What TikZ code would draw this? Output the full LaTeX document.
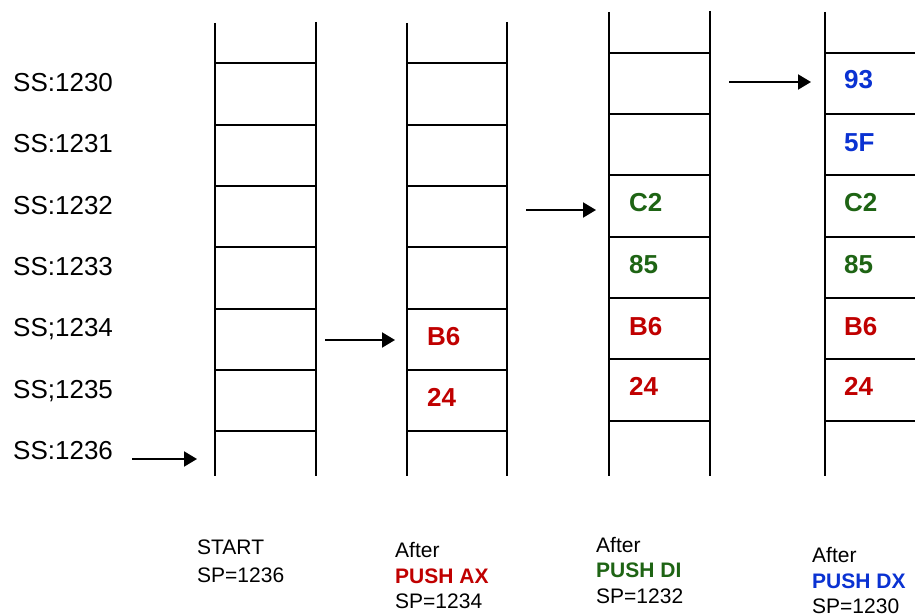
\documentclass[tikz,border=0pt]{standalone}
\usepackage{fontspec}
\setmainfont{Liberation Sans}
\usetikzlibrary{arrows.meta}
\definecolor{pred}{RGB}{192,0,0}
\definecolor{pgreen}{RGB}{30,100,20}
\definecolor{pblue}{RGB}{10,50,210}
\tikzset{
  ladder/.style={line width=2pt, black},
  ptr/.style={line width=2pt, -{Triangle[length=13pt,width=15pt]}},
  addr/.style={anchor=base west, inner sep=0pt, font=\fontsize{26}{26}\selectfont},
  val/.style={anchor=base west, inner sep=0pt, font=\fontsize{26}{26}\selectfont\bfseries},
  captxt/.style={anchor=base west, inner sep=0pt, font=\fontsize{21}{21}\selectfont},
  captxtb/.style={anchor=base west, inner sep=0pt, font=\fontsize{21}{21}\selectfont\bfseries},
}
\begin{document}
\begin{tikzpicture}[x=1pt,y=-1pt]
\clip (0,0) rectangle (915,615);
\fill[white] (0,0) rectangle (915,615);
% stack 1 and 2
\foreach \l/\r in {215/316, 407/507}{
  \draw[ladder] (\l,23) -- (\l,476);
  \draw[ladder] (\r,22) -- (\r,476);
  \foreach \y in {63,125,186,247,309,370,431}
    \draw[ladder] (\l,\y) -- (\r,\y);
}
% stack 3 and 4
\foreach \l/\r in {609/710, 825/926}{
  \draw[ladder] (\l,12) -- (\l,476);
  \draw[ladder] (\r,11) -- (\r,476);
  \foreach \y in {53,114,175,237,298,359,421}
    \draw[ladder] (\l,\y) -- (\r,\y);
}
% address labels
\node[addr] (a0) at (13,91.5) {SS:1230};
\node[addr] (a1) at (13,152.5) {SS:1231};
\node[addr] (a2) at (13,214) {SS:1232};
\node[addr] (a3) at (13,275.5) {SS:1233};
\node[addr] (a4) at (13,336.5) {SS;1234};
\node[addr] (a5) at (13,398) {SS;1235};
\node[addr] (a6) at (13,459.5) {SS:1236};
% stack 2 values
\node[val, text=pred] (s2b6) at (427,345) {B6};
\node[val, text=pred] (s224) at (427,406) {24};
% stack 3 values
\node[val, text=pgreen] (s3c2) at (629,211) {C2};
\node[val, text=pgreen] (s385) at (629,273) {85};
\node[val, text=pred] (s3b6) at (629,335) {B6};
\node[val, text=pred] (s324) at (629,395) {24};
% stack 4 values
\node[val, text=pblue] (s493) at (844,89) {93};
\node[val, text=pblue] (s45f) at (844,151) {5F};
\node[val, text=pgreen] (s4c2) at (844,211) {C2};
\node[val, text=pgreen] (s485) at (844,273) {85};
\node[val, text=pred] (s4b6) at (844,335) {B6};
\node[val, text=pred] (s424) at (844,395) {24};
% pointers
\coordinate (p1s) at (132,459); \coordinate (p1e) at (197,459);
\coordinate (p2s) at (325,340); \coordinate (p2e) at (395,340);
\coordinate (p3s) at (526,210); \coordinate (p3e) at (596,210);
\coordinate (p4s) at (729,82);  \coordinate (p4e) at (811,82);
\draw[ptr] (p1s) -- (p1e);
\draw[ptr] (p2s) -- (p2e);
\draw[ptr] (p3s) -- (p3e);
\draw[ptr] (p4s) -- (p4e);
% captions
\node[captxt] (c1a) at (197,554) {START};
\node[captxt] (c1b) at (197,582) {SP=1236};
\node[captxt] (c2a) at (395,557) {After};
\node[captxtb, text=pred] (c2b) at (395,583) {PUSH AX};
\node[captxt] (c2c) at (395,608) {SP=1234};
\node[captxt] (c3a) at (596,552) {After};
\node[captxtb, text=pgreen] (c3b) at (596,577) {PUSH DI};
\node[captxt] (c3c) at (596,603) {SP=1232};
\node[captxt] (c4a) at (812,562) {After};
\node[captxtb, text=pblue] (c4b) at (812,588) {PUSH DX};
\node[captxt] (c4c) at (812,613) {SP=1230};
\end{tikzpicture}
\end{document}
